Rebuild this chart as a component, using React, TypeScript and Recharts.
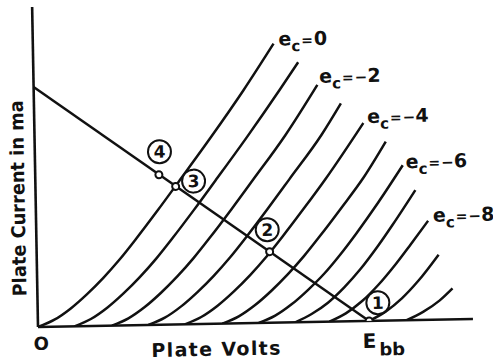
import React from 'react';
import { ComposedChart, Line, Scatter, XAxis, YAxis, ReferenceDot } from 'recharts';

// plate characteristics: [plate volts, plate ma] for each grid voltage
const ec0 = [[0, 0], [15, 0.7], [30, 1.8], [45, 3.2], [60, 4.8], [75, 6.6], [90, 8.6], [110, 11.4], [130, 14.3], [160, 18.7], [190, 23.3], [218, 27.9]];
const ec1 = [[33, 0], [48, 0.7], [63, 1.8], [78, 3.2], [93, 4.8], [108, 6.6], [123, 8.6], [143, 11.4], [163, 14.3], [193, 18.7], [223, 23.3], [240, 26.0]];
const ec2 = [[67, 0], [82, 0.7], [97, 1.8], [112, 3.2], [127, 4.8], [142, 6.6], [157, 8.6], [177, 11.4], [197, 14.3], [227, 18.7], [257, 23.7]];
const ec3 = [[100, 0], [115, 0.7], [130, 1.8], [145, 3.2], [160, 4.8], [175, 6.6], [190, 8.6], [210, 11.4], [230, 14.3], [260, 18.7], [278, 21.8]];
const ec4 = [[133, 0], [148, 0.7], [163, 1.8], [178, 3.2], [193, 4.8], [208, 6.6], [223, 8.6], [243, 11.4], [263, 14.3], [298, 19.8]];
const ec5 = [[167, 0], [182, 0.7], [197, 1.8], [212, 3.2], [227, 4.8], [242, 6.6], [257, 8.6], [277, 11.4], [297, 14.3], [318, 17.9]];
const ec6 = [[200, 0], [215, 0.7], [230, 1.8], [245, 3.2], [260, 4.8], [275, 6.7], [290, 8.8], [310, 11.8], [333, 15.5]];
const ec7 = [[233, 0], [248, 0.8], [263, 1.9], [278, 3.4], [293, 5.2], [308, 7.3], [323, 9.6], [344, 13.0]];
const ec8 = [[264, 0], [279, 0.8], [294, 2.0], [309, 3.6], [324, 5.5], [339, 7.6], [355, 9.9]];
const ec9 = [[300, 0], [315, 0.9], [330, 2.2], [345, 3.9], [364, 6.5]];
const ec10 = [[334, 0], [349, 0.8], [364, 1.9], [376, 3.1]];

const gridVolts = [0, -1, -2, -3, -4, -5, -6, -7, -8, -9, -10];
const curvePoints = [ec0, ec1, ec2, ec3, ec4, ec5, ec6, ec7, ec8, ec9, ec10];
const labelledGrids = [0, -2, -4, -6, -8];

// load line from Ebb / R down to Ebb
const EBB = 300;
const loadLine = [[0, 24], [EBB, 0]];

const opNames = ['1', '2', '3', '4'];
const opVolts = [300, 211, 127, 112];
const opMa = [0, 7.1, 13.8, 15.0];

const toRows = (pts: number[][]) => pts.map(([v, i]) => ({ v, i }));

const curves = gridVolts.map((ec, k) => ({ ec, data: toRows(curvePoints[k]) }));
const opPoints = opNames.map((n, k) => ({ n, v: opVolts[k], i: opMa[k] }));

const FONT = '"DejaVu Sans", sans-serif';
const INK = '#111';
const LINE_W = 2.5;

// where each e_c tag sits relative to the end of its curve
const tagShift: Record<number, [number, number]> = {
  0: [5, 2],
  [-2]: [2, -2],
  [-4]: [4, 0],
  [-6]: [3, 3],
  [-8]: [5, 1],
};

// circled numbers relative to their point on the load line
const circleShift: Record<string, [number, number]> = {
  '1': [9, -18],
  '2': [-2, -22],
  '3': [18, -5],
  '4': [1, -23],
};

const curveTag = (ec: number, last: number) => (props: any) => {
  if (props.index !== last) return null;
  const [dx, dy] = tagShift[ec];
  const x = props.x + dx;
  const y = props.y + dy;
  return (
    <text x={x} y={y} fontFamily={FONT} fontWeight="bold" fontSize={19} fill={INK}>
      e
      <tspan dy={6} fontSize={15}>c</tspan>
      <tspan dy={-6} dx={1} fontSize={14}>=</tspan>
      {ec === 0 ? (
        <tspan dx={1}>0</tspan>
      ) : (
        <>
          <tspan dx={1} fontSize={15}>−</tspan>
          <tspan>{-ec}</tspan>
        </>
      )}
    </text>
  );
};

const OpPoint = (props: any) => {
  const { cx, cy, payload } = props;
  const [dx, dy] = circleShift[payload.n];
  return (
    <g>
      <circle cx={cx} cy={cy} r={3.5} fill="#fff" stroke={INK} strokeWidth={2} />
      <circle cx={cx + dx} cy={cy + dy} r={11.5} fill="#fff" stroke={INK} strokeWidth={2} />
      <text x={cx + dx} y={cy + dy + 6} textAnchor="middle" fontFamily={FONT} fontWeight="bold" fontSize={17} fill={INK}>
        {payload.n}
      </text>
    </g>
  );
};

const ebbLabel = (props: any) => {
  const { x, y } = props.viewBox;
  return (
    <text x={x - 7} y={y + 27} fontFamily={FONT} fontWeight="bold" fontSize={20} fill={INK}>
      E<tspan dx={3} dy={8} fontSize={18}>bb</tspan>
    </text>
  );
};

const xLabels = (props: any) => {
  const { x, y } = props.viewBox;
  return (
    <g fontFamily={FONT} fontWeight="bold" fill={INK}>
      <text x={x + 3} y={y + 23} textAnchor="middle" fontSize={18}>O</text>
      <text x={x + 113} y={y + 32} fontSize={19} textLength={129} lengthAdjust="spacing">
        Plate Volts
      </text>
    </g>
  );
};

const yLabel = (props: any) => {
  const { x, y } = props.viewBox;
  const lx = x - 10;
  const ly = y + 191;
  return (
    <text
      x={lx}
      y={ly}
      transform={`rotate(-90, ${lx}, ${ly})`}
      textAnchor="middle"
      fontFamily={FONT}
      fontWeight="bold"
      fontSize={19}
      fill={INK}
      textLength={196}
      lengthAdjust="spacingAndGlyphs"
    >
      Plate Current in ma
    </text>
  );
};

export default function App() {
  return (
    <div
      style={{
        position: 'absolute',
        left: 0,
        top: 0,
        width: 495,
        height: 362,
        background: '#fff',
        transform: 'rotate(-1.05deg)',
        transformOrigin: '38px 327px',
      }}
    >
      <ComposedChart width={495} height={362} margin={{ top: 7, right: 22, bottom: 34, left: 37 }}>
        <XAxis
          type="number"
          dataKey="v"
          domain={[0, 394]}
          allowDataOverflow
          tick={false}
          tickLine={false}
          height={1}
          axisLine={{ stroke: INK, strokeWidth: 2.6 }}
          label={xLabels}
        />
        <YAxis
          type="number"
          dataKey="i"
          domain={[0, 32]}
          allowDataOverflow
          tick={false}
          tickLine={false}
          width={1}
          axisLine={{ stroke: INK, strokeWidth: 2.6 }}
          label={yLabel}
        />
        {curves.map(({ ec, data }) => (
          <Line
            key={ec}
            data={data}
            dataKey="i"
            type="monotone"
            stroke={INK}
            strokeWidth={LINE_W}
            dot={false}
            isAnimationActive={false}
            label={labelledGrids.includes(ec) ? curveTag(ec, data.length - 1) : false}
          />
        ))}
        <Line
          data={toRows(loadLine)}
          dataKey="i"
          type="linear"
          stroke={INK}
          strokeWidth={LINE_W}
          dot={false}
          isAnimationActive={false}
        />
        <Scatter data={opPoints} dataKey="i" shape={OpPoint} isAnimationActive={false} />
        <ReferenceDot x={EBB} y={0} r={0} fill="none" stroke="none" ifOverflow="visible" label={ebbLabel} />
      </ComposedChart>
    </div>
  );
}
